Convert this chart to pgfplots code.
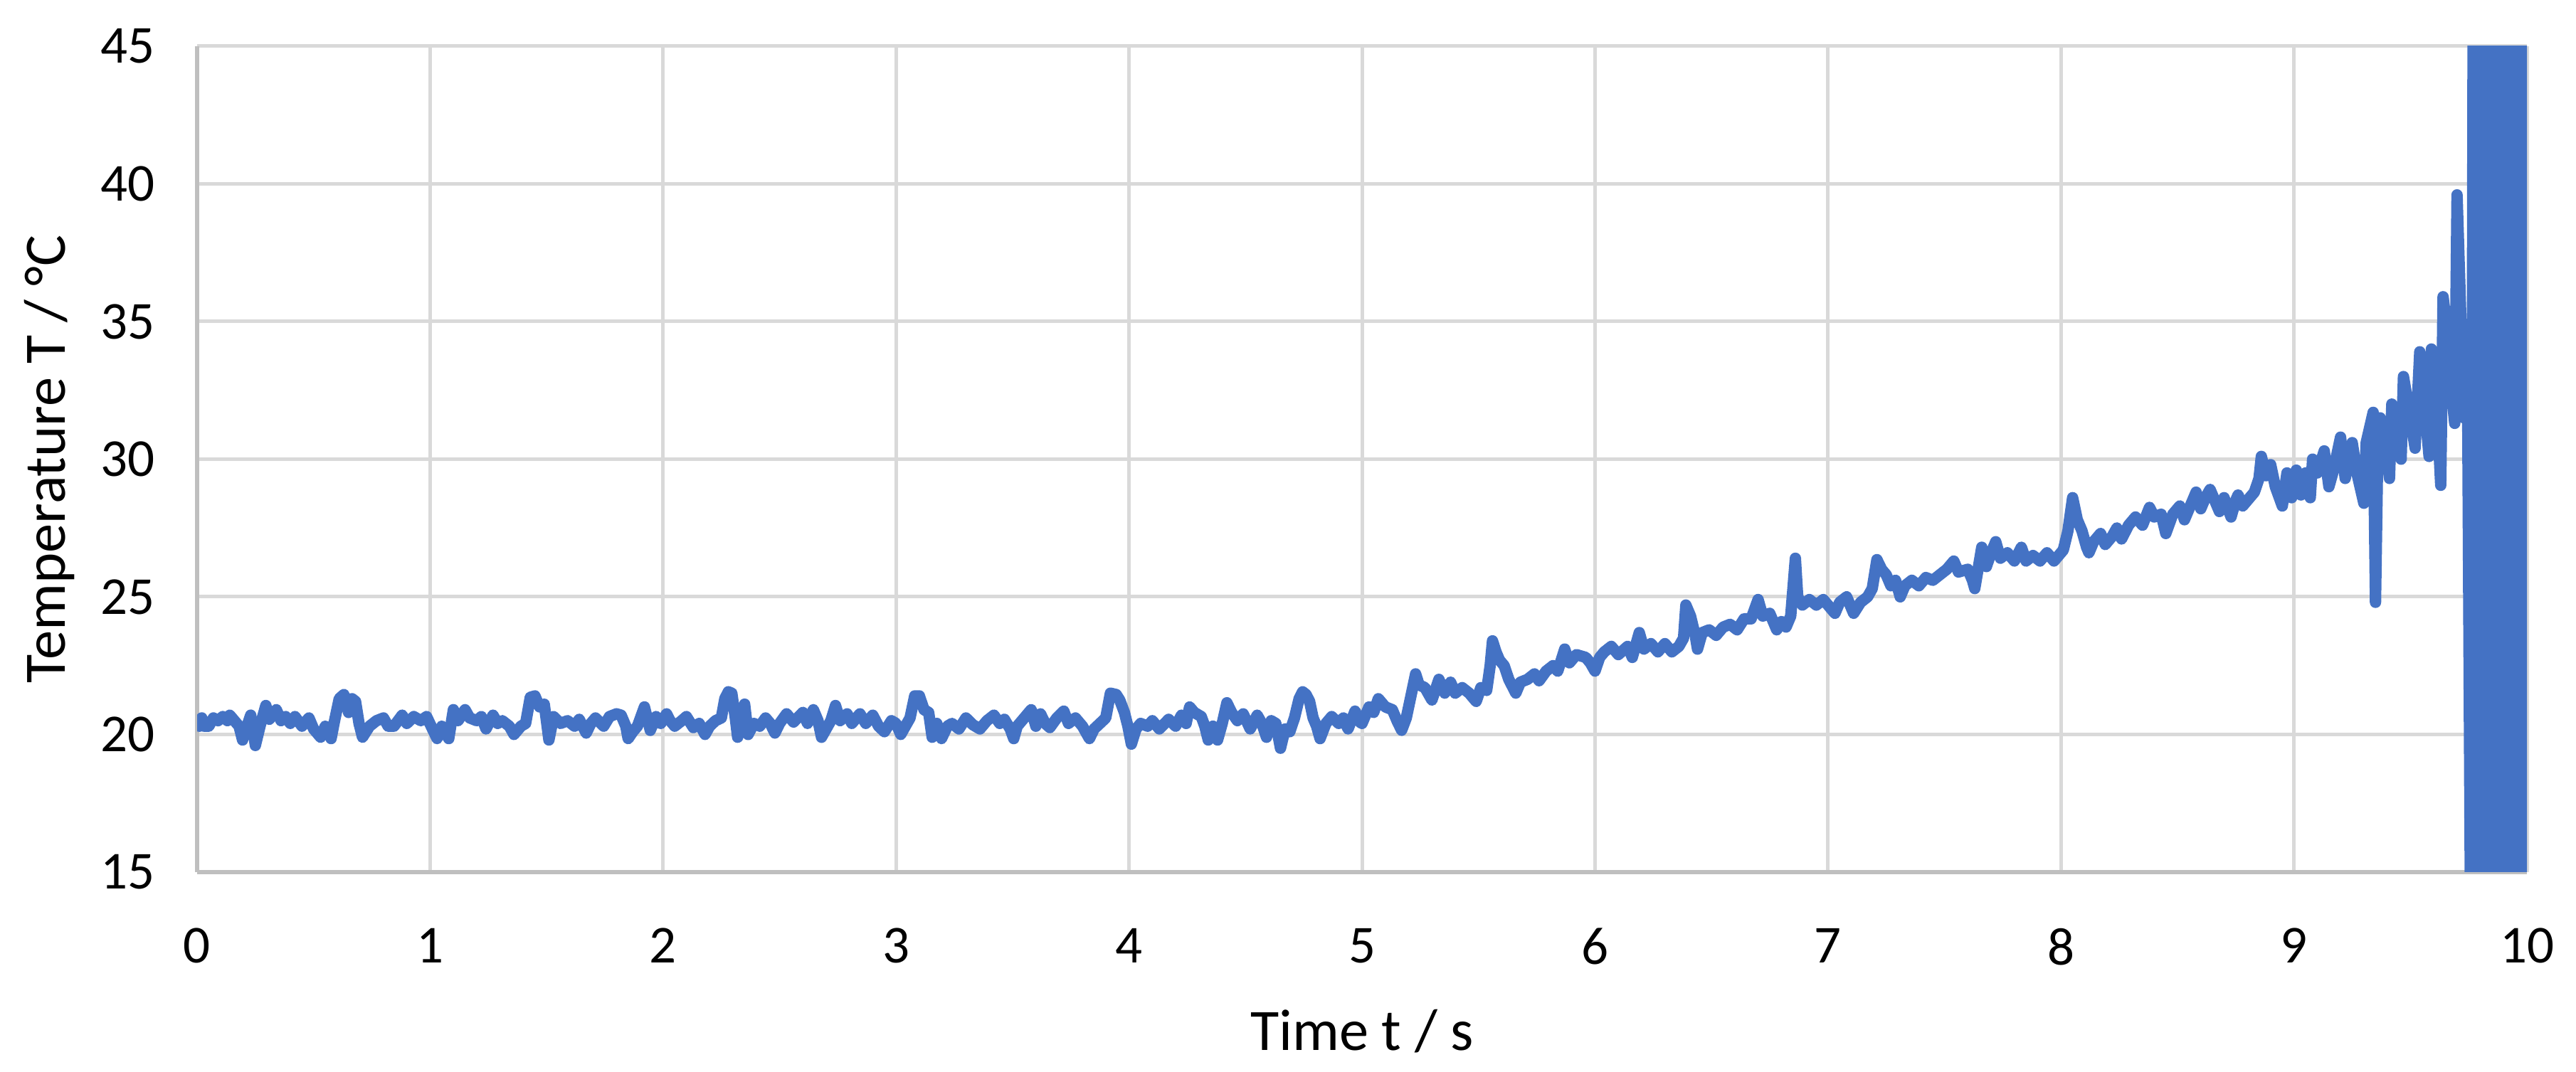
\documentclass[border=0pt]{standalone}
\usepackage{fontspec}
\setmainfont{Carlito}
\usepackage{pgfplots}
\usepackage{pgfplotstable}
\pgfplotsset{compat=1.18}
\usetikzlibrary{calc}

\definecolor{lineblue}{HTML}{4472C4}
\definecolor{gridgray}{HTML}{D9D9D9}
\definecolor{axgray}{HTML}{BFBFBF}

% temperature trace
\pgfplotstableread{
t T
0.00 20.5
0.01 20.3
0.02 20.6
0.03 20.3
0.05 20.3
0.07 20.6
0.09 20.5
0.11 20.65
0.13 20.5
0.14 20.7
0.16 20.5
0.18 20.3
0.195 19.8
0.21 20.2
0.23 20.7
0.24 20.2
0.25 19.6
0.27 20.3
0.295 21.05
0.31 20.55
0.34 20.9
0.36 20.5
0.38 20.65
0.40 20.4
0.42 20.65
0.45 20.3
0.48 20.6
0.50 20.2
0.53 19.9
0.55 20.3
0.575 19.85
0.59 20.5
0.61 21.3
0.63 21.45
0.65 20.8
0.665 21.3
0.68 21.2
0.695 20.4
0.71 19.9
0.74 20.3
0.77 20.5
0.80 20.6
0.82 20.3
0.845 20.3
0.88 20.7
0.90 20.4
0.93 20.65
0.96 20.5
0.985 20.65
1.01 20.2
1.03 19.85
1.05 20.3
1.08 19.85
1.10 20.9
1.12 20.5
1.15 20.9
1.17 20.6
1.20 20.5
1.22 20.65
1.24 20.2
1.27 20.7
1.29 20.4
1.31 20.5
1.34 20.3
1.36 20.0
1.39 20.3
1.41 20.4
1.43 21.35
1.45 21.4
1.47 21.0
1.49 21.1
1.51 19.8
1.53 20.65
1.56 20.4
1.59 20.5
1.62 20.3
1.64 20.55
1.67 20.05
1.69 20.4
1.71 20.6
1.745 20.3
1.77 20.65
1.80 20.75
1.82 20.7
1.84 20.3
1.85 19.85
1.87 20.1
1.89 20.3
1.92 21.0
1.945 20.15
1.97 20.65
1.99 20.4
2.015 20.75
2.03 20.5
2.05 20.3
2.08 20.5
2.10 20.65
2.13 20.25
2.155 20.4
2.18 20.0
2.20 20.3
2.225 20.5
2.25 20.6
2.265 21.3
2.28 21.55
2.295 21.5
2.31 20.6
2.32 19.9
2.335 20.5
2.35 21.1
2.365 20.0
2.39 20.4
2.415 20.3
2.44 20.6
2.46 20.4
2.48 20.05
2.50 20.4
2.53 20.75
2.56 20.45
2.60 20.8
2.62 20.4
2.645 20.9
2.665 20.5
2.68 19.9
2.70 20.2
2.72 20.5
2.74 21.05
2.76 20.5
2.79 20.75
2.81 20.4
2.845 20.75
2.87 20.4
2.90 20.7
2.925 20.3
2.95 20.1
2.98 20.5
3.00 20.4
3.02 20.0
3.04 20.3
3.06 20.6
3.08 21.4
3.10 21.4
3.12 20.9
3.14 20.8
3.155 19.9
3.175 20.4
3.195 19.85
3.22 20.3
3.24 20.4
3.27 20.2
3.30 20.6
3.33 20.35
3.36 20.2
3.39 20.5
3.42 20.7
3.445 20.4
3.465 20.55
3.49 20.2
3.505 19.85
3.52 20.3
3.55 20.6
3.57 20.8
3.58 20.9
3.60 20.3
3.62 20.75
3.64 20.4
3.66 20.25
3.69 20.6
3.72 20.85
3.74 20.4
3.77 20.6
3.80 20.3
3.83 19.85
3.85 20.2
3.875 20.4
3.90 20.6
3.92 21.5
3.945 21.45
3.96 21.25
3.98 20.8
3.995 20.3
4.01 19.65
4.03 20.2
4.05 20.4
4.08 20.3
4.10 20.5
4.13 20.2
4.17 20.55
4.20 20.3
4.225 20.7
4.245 20.4
4.26 21.0
4.28 20.8
4.31 20.65
4.325 20.3
4.34 19.8
4.36 20.3
4.38 19.8
4.40 20.4
4.42 21.15
4.44 20.8
4.465 20.5
4.49 20.75
4.52 20.2
4.55 20.7
4.57 20.4
4.59 19.9
4.61 20.5
4.63 20.4
4.65 19.5
4.67 20.2
4.69 20.1
4.71 20.6
4.73 21.3
4.745 21.55
4.76 21.45
4.775 21.2
4.79 20.6
4.805 20.3
4.82 19.85
4.845 20.4
4.87 20.65
4.90 20.4
4.92 20.6
4.94 20.2
4.97 20.85
4.99 20.45
5.00 20.4
5.03 21.0
5.05 20.8
5.07 21.3
5.10 21.0
5.13 20.9
5.15 20.5
5.17 20.15
5.19 20.6
5.21 21.4
5.23 22.2
5.245 21.8
5.27 21.7
5.30 21.25
5.33 22.0
5.355 21.5
5.38 21.9
5.40 21.5
5.43 21.7
5.46 21.5
5.49 21.2
5.51 21.7
5.535 21.6
5.55 22.5
5.56 23.4
5.575 23.0
5.59 22.7
5.61 22.5
5.63 22.0
5.66 21.5
5.68 21.9
5.71 22.0
5.74 22.2
5.76 21.95
5.79 22.3
5.82 22.5
5.84 22.3
5.87 23.1
5.89 22.6
5.92 22.9
5.96 22.8
5.98 22.6
6.00 22.3
6.02 22.8
6.04 23.0
6.07 23.2
6.10 22.9
6.14 23.2
6.16 22.8
6.19 23.7
6.21 23.1
6.24 23.3
6.27 23.0
6.30 23.3
6.33 23.0
6.36 23.2
6.38 23.5
6.39 24.7
6.41 24.3
6.43 23.6
6.44 23.1
6.46 23.7
6.49 23.8
6.52 23.6
6.55 23.9
6.58 24.0
6.61 23.8
6.64 24.2
6.67 24.2
6.70 24.9
6.72 24.3
6.75 24.4
6.78 23.8
6.80 24.1
6.82 23.9
6.84 24.3
6.86 26.4
6.87 25.0
6.89 24.7
6.92 24.9
6.95 24.7
6.98 24.9
7.00 24.7
7.03 24.4
7.05 24.8
7.08 25.0
7.11 24.4
7.14 24.8
7.17 25.0
7.19 25.3
7.21 26.35
7.23 26.0
7.25 25.8
7.27 25.4
7.29 25.6
7.31 25.0
7.33 25.4
7.36 25.6
7.39 25.4
7.42 25.7
7.45 25.6
7.48 25.8
7.51 26.0
7.54 26.3
7.56 25.9
7.60 26.0
7.62 25.6
7.63 25.3
7.66 26.8
7.68 26.1
7.70 26.6
7.72 27.0
7.74 26.4
7.77 26.6
7.80 26.3
7.83 26.8
7.85 26.3
7.88 26.5
7.91 26.3
7.94 26.6
7.97 26.3
7.99 26.5
8.01 26.7
8.03 27.4
8.05 28.6
8.07 27.8
8.09 27.4
8.11 26.8
8.12 26.6
8.14 27.0
8.17 27.3
8.19 26.9
8.22 27.2
8.24 27.5
8.26 27.1
8.29 27.6
8.32 27.9
8.35 27.6
8.38 28.25
8.40 27.9
8.43 28.0
8.45 27.3
8.48 28.0
8.51 28.3
8.53 27.8
8.56 28.4
8.58 28.8
8.60 28.2
8.62 28.6
8.64 28.9
8.66 28.5
8.68 28.1
8.70 28.6
8.73 27.9
8.75 28.5
8.76 28.7
8.78 28.3
8.80 28.5
8.83 28.8
8.85 29.3
8.86 30.1
8.88 29.4
8.90 29.8
8.92 29.0
8.95 28.3
8.97 29.5
8.99 28.6
9.01 29.6
9.03 28.7
9.05 29.5
9.07 28.6
9.08 30.0
9.10 29.5
9.13 30.3
9.15 29.0
9.17 29.6
9.20 30.8
9.22 29.3
9.25 30.6
9.27 29.5
9.30 28.4
9.31 30.6
9.34 31.7
9.35 24.8
9.36 30.5
9.37 31.5
9.39 30.8
9.41 29.3
9.42 32.0
9.44 31.0
9.46 30.0
9.47 33.0
9.50 31.5
9.52 30.4
9.54 33.9
9.56 32.0
9.58 30.1
9.59 34.0
9.61 32.5
9.63 29.05
9.64 35.9
9.66 34.5
9.67 33.0
9.69 31.3
9.70 39.6
9.715 35.5
9.73 31.5
9.745 33.0
9.76 10
9.77 50
9.78 10
9.79 50
9.80 10
9.81 50
9.82 10
9.83 50
9.84 10
9.85 50
9.86 10
9.87 50
9.88 10
9.89 50
9.90 10
9.91 50
9.92 10
9.93 50
9.94 10
9.95 50
9.96 10
9.97 50
9.98 10
9.99 50
10.00 10
}\temptable

\begin{document}
\begin{tikzpicture}
\begin{axis}[name=ax, scale only axis,
  width=654.8pt, height=232.2pt,
  xmin=0, xmax=10, ymin=15, ymax=45,
  xtick={0,1,...,10}, ytick={15,20,...,45},
  grid=major, major grid style={gridgray, line width=1pt},
  axis x line*=bottom, axis y line*=left,
  axis line style={axgray, line width=1.3pt, -},
  major tick length=0pt,
  /pgf/number format/assume math mode=true,
  tick label style={font=\fontsize{15}{17}\selectfont},
  yticklabel style={anchor=east, inner sep=0pt, xshift=-11.6pt},
  xticklabel style={anchor=north, inner sep=0pt, yshift=-15.6pt},
  xlabel={Time t / s}, ylabel={Temperature T / °C},
  label style={font=\fontsize{16.5}{19}\selectfont},
  xlabel style={at={(axis description cs:0.5,-0.193)}, anchor=center},
  ylabel style={at={(axis description cs:-0.0635,0.5)}, anchor=center},
]
\addplot[lineblue, line width=3.2pt, line join=round, line cap=round] table[x=t, y=T] {\temptable};
\end{axis}
\path ($(ax.south west)+(-55.4pt,-56.2pt)$) rectangle ($(ax.north east)+(13.8pt,13pt)$);
\end{tikzpicture}
\end{document}
